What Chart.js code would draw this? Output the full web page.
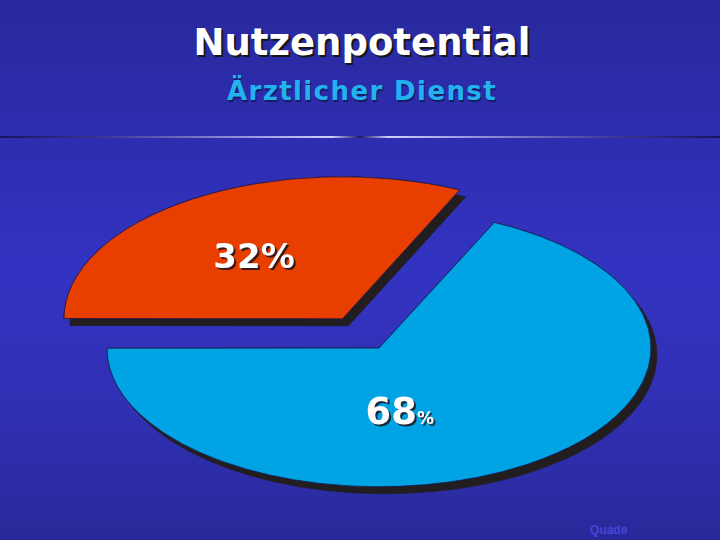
<!DOCTYPE html>
<html>
<head>
<meta charset="utf-8">
<script src="https://cdn.jsdelivr.net/npm/chart.js@4/dist/chart.umd.min.js"></script>
<style>
  html, body { margin: 0; padding: 0; }
  body {
    width: 720px; height: 540px; overflow: hidden; position: relative;
    background: linear-gradient(to bottom, #29299c 0%, #2d2db0 25%, #3333c2 50%, #3030b4 75%, #29299a 100%);
  }
  #title {
    position: absolute; left: 0; width: 724px; top: 21px; text-align: center;
    font: bold 37px "DejaVu Sans"; line-height: 44px; color: #fff;
    text-shadow: 2px 2px 0 #151515;
  }
  #subtitle {
    position: absolute; left: 0; width: 724px; top: 74px; text-align: center;
    font: bold 26px "DejaVu Sans"; letter-spacing: 1.4px; line-height: 34px; color: #22b2f2;
    text-shadow: 1px 2px 0 #1a1a60;
  }
  #divider {
    position: absolute; left: 0; width: 720px; top: 136px; height: 2px;
    background: linear-gradient(to right, #14145e 0%, #3a3a96 15%, #9a9ae0 35%, #d0d0ff 46%, #1c1c70 50%, #d0d0ff 54%, #9a9ae0 65%, #3a3a96 85%, #14145e 100%);
  }
  #credit {
    position: absolute; left: 590px; top: 523px;
    font: bold 12px "Liberation Sans"; color: #4646d6;
  }
  #c { position: absolute; left: 0; top: 0; }
</style>
</head>
<body>
<div id="title">Nutzenpotential</div>
<div id="subtitle">Ärztlicher Dienst</div>
<div id="divider"></div>
<div id="credit">Quade</div>
<canvas id="c" width="720" height="540"></canvas>
<script>
// data
const categories = ['Rest', 'Nutzenpotential'];
const shares = [68, 32];
const sliceColors = ['#00a4e4', '#e83e00'];

// squash the round pie into a tilted ellipse; first pass lays down the hard shadow
const tiltPlugin = {
  id: 'tilt',
  beforeDatasetsDraw(chart, args, opts) {
    const meta = chart.getDatasetMeta(0);
    const arc = meta.data[0];
    const ctx = chart.ctx;
    ctx.save();
    ctx.translate(arc.x, arc.y);
    ctx.scale(1, opts.ratio);
    ctx.translate(-arc.x, -arc.y);
    ctx.save();
    ctx.shadowColor = opts.shadowColor;
    ctx.shadowOffsetX = opts.shadowX;
    ctx.shadowOffsetY = opts.shadowY;
    ctx.shadowBlur = 0;
    meta.data.forEach(a => a.draw(ctx));
    ctx.restore();
  },
  afterDatasetsDraw(chart) {
    chart.ctx.restore();
  }
};

// percent labels, positioned from the arc geometry
const labelPlugin = {
  id: 'pctLabels',
  afterDraw(chart, args, opts) {
    const ctx = chart.ctx;
    const ratio = chart.options.plugins.tilt.ratio;
    const meta = chart.getDatasetMeta(0);
    meta.data.forEach((arc, i) => {
      const place = opts.place[i];
      const off = (arc.options.offset || 0) / 4;
      const half = (arc.startAngle + arc.endAngle) / 2;
      const cx = arc.x + Math.cos(half) * off;
      const cy = arc.y + Math.sin(half) * off;
      const a = half + place.turn * Math.PI / 180;
      const r = arc.outerRadius * place.frac;
      const px = cx + Math.cos(a) * r;
      const py = arc.y + (cy - arc.y + Math.sin(a) * r) * ratio;

      const num = String(shares[i]);
      ctx.save();
      ctx.textBaseline = 'alphabetic';
      ctx.textAlign = 'left';
      ctx.font = 'bold ' + place.size + 'px "DejaVu Sans"';
      const wNum = ctx.measureText(num).width;
      ctx.font = 'bold ' + place.pctSize + 'px "DejaVu Sans"';
      const wPct = ctx.measureText('%').width;
      const x0 = px - (wNum + wPct) / 2;
      const base = py + place.size * 0.36;
      ctx.shadowColor = opts.shadowColor;
      ctx.shadowOffsetX = 2;
      ctx.shadowOffsetY = 2;
      ctx.fillStyle = '#ffffff';
      ctx.font = 'bold ' + place.size + 'px "DejaVu Sans"';
      ctx.fillText(num, x0, base);
      ctx.font = 'bold ' + place.pctSize + 'px "DejaVu Sans"';
      ctx.fillText('%', x0 + wNum, base);
      ctx.restore();
    });
  }
};

new Chart(document.getElementById('c'), {
  type: 'pie',
  data: {
    labels: categories,
    datasets: [{
      data: shares,
      backgroundColor: sliceColors,
      borderColor: '#18184a',
      borderWidth: 1,
      offset: [0, 272],
      clip: false
    }]
  },
  options: {
    responsive: false,
    animation: false,
    events: [],
    devicePixelRatio: 1,
    rotation: 25.1,
    radius: 272,
    layout: { padding: { left: 38, top: 156, right: 0, bottom: 0 } },
    plugins: {
      legend: { display: false },
      tooltip: { enabled: false },
      tilt: { ratio: 0.51, shadowColor: '#221e20', shadowX: 6, shadowY: 7 },
      pctLabels: {
        shadowColor: 'rgba(30,20,30,0.85)',
        place: [
          { frac: 0.46, turn: 23, size: 37, pctSize: 17 },
          { frac: 0.56, turn: -3, size: 34, pctSize: 34 }
        ]
      }
    }
  },
  plugins: [tiltPlugin, labelPlugin]
});
</script>
</body>
</html>
